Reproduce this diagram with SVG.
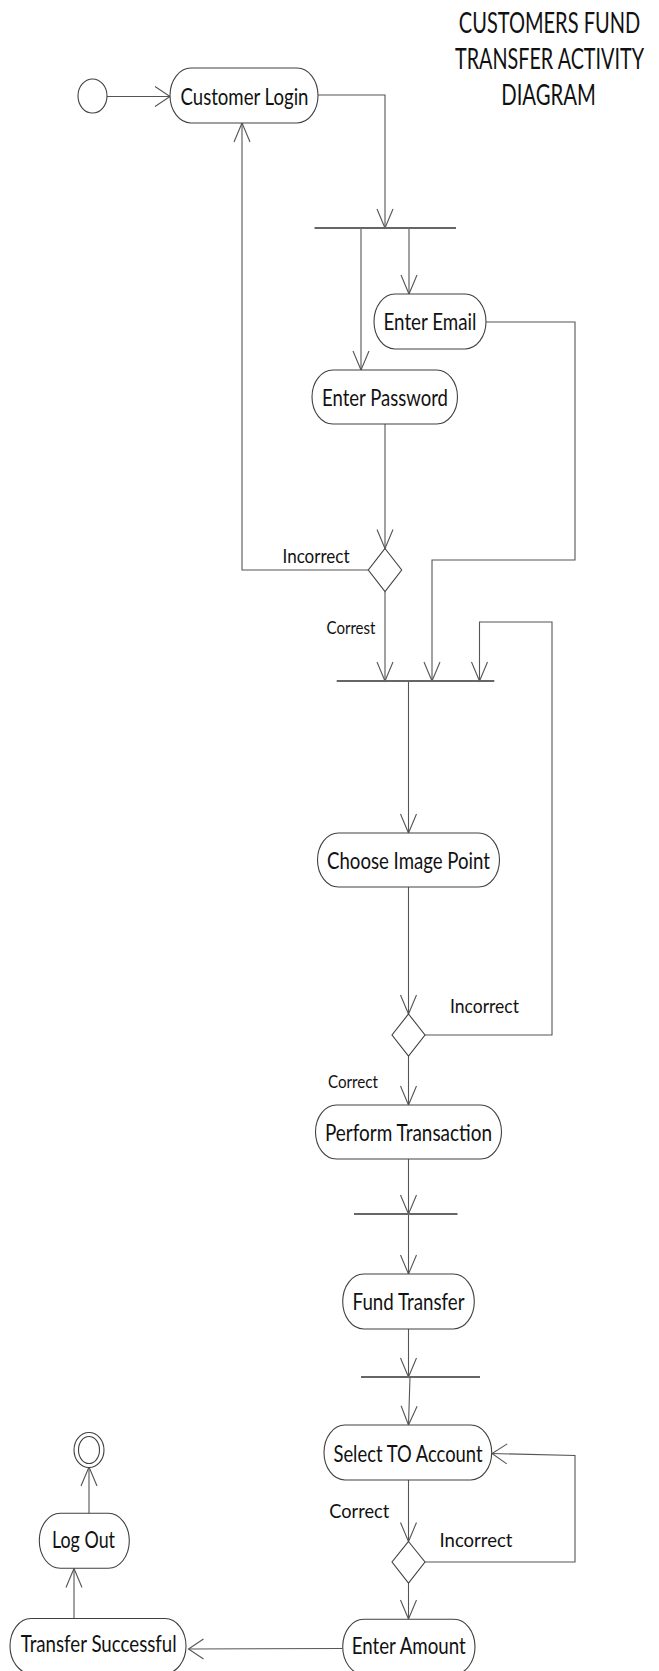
<svg xmlns="http://www.w3.org/2000/svg" width="659" height="1671" viewBox="0 0 659 1671">
<style>
.node{fill:#fff;stroke:#404040;stroke-width:1.1}
.t{font-family:Lato,"Open Sans","Liberation Sans",sans-serif;font-size:23.5px;fill:#111;text-anchor:middle}
.lb{font-family:Lato,"Open Sans","Liberation Sans",sans-serif;font-size:19.5px;fill:#111;text-anchor:middle}
.title{font-family:Lato,"Open Sans","Liberation Sans",sans-serif;font-size:29px;fill:#111;text-anchor:middle}
.c{fill:none;stroke:#555;stroke-width:1.1}
.cv{fill:none;stroke:#555;stroke-width:1.1;marker-end:url(#av)}
.ch{fill:none;stroke:#555;stroke-width:1.1;marker-end:url(#ah)}
.bar{stroke:#666;stroke-width:2.2}
</style>
<defs>
<marker id="av" markerUnits="userSpaceOnUse" markerWidth="22" markerHeight="20" viewBox="-1 -1 22 20" refX="19" refY="8" orient="auto" overflow="visible"><path d="M0,0 L19,8 L0,16" fill="none" stroke="#555" stroke-width="1.1"/></marker>
<marker id="ah" markerUnits="userSpaceOnUse" markerWidth="18" markerHeight="24" viewBox="-1 -1 18 24" refX="15" refY="10" orient="auto" overflow="visible"><path d="M0,0 L15,10 L0,20" fill="none" stroke="#555" stroke-width="1.1"/></marker>
</defs>

<g id="title">
<text class="title" transform="translate(549.5,32.5) scale(0.7,1)" x="0" y="0" textLength="259" lengthAdjust="spacingAndGlyphs">CUSTOMERS FUND</text>
<text class="title" transform="translate(549.5,68.5) scale(0.7,1)" x="0" y="0" textLength="270" lengthAdjust="spacingAndGlyphs">TRANSFER ACTIVITY</text>
<text class="title" transform="translate(548.5,104.5) scale(0.7,1)" x="0" y="0" textLength="135" lengthAdjust="spacingAndGlyphs">DIAGRAM</text>
</g>

<g id="connectors">
<path class="ch" d="M107,96.5 L170,96.5"/>
<path class="cv" d="M318,95 L385,95 L385,228"/>
<path class="cv" d="M361,228 L361,370"/>
<path class="cv" d="M409,228 L409,294"/>
<path class="cv" d="M486,322 L575,322 L575,560 L432,560 L432,681"/>
<path class="cv" d="M385,424 L385,548.5"/>
<path class="cv" d="M368.5,570 L242,570 L242,123"/>
<path class="cv" d="M385,591.5 L385,681"/>
<path class="cv" d="M408.5,681 L408.5,833"/>
<path class="cv" d="M408.5,887 L408.5,1014"/>
<path class="cv" d="M425,1035 L552,1035 L552,622 L479.5,622 L479.5,681"/>
<path class="cv" d="M408.5,1056 L408.5,1105"/>
<path class="cv" d="M408.5,1159 L408.5,1214"/>
<path class="cv" d="M408.5,1214 L408.5,1274"/>
<path class="cv" d="M408.5,1329 L408.5,1377"/>
<path class="cv" d="M410,1377 L408.5,1425"/>
<path class="cv" d="M408.5,1480 L408.5,1541.5"/>
<path class="ch" d="M425,1562 L575,1562 L575,1455.5 L492,1453.5"/>
<path class="cv" d="M408.5,1583 L408.5,1619"/>
<path class="ch" d="M342.5,1648.5 L188.5,1649"/>
<path class="cv" d="M74,1618.5 L74,1568.5"/>
<path class="cv" d="M89,1513.5 L89,1467"/>
</g>

<g id="start"><ellipse class="node" cx="92.5" cy="96" rx="14.5" ry="17"/></g>

<g id="customer-login"><rect class="node" x="170" y="68" width="148" height="55" rx="21" ry="27.5"/><text class="t" x="244.5" y="104.5" textLength="128" lengthAdjust="spacingAndGlyphs">Customer Login</text></g>

<g id="fork1"><line class="bar" x1="314.5" y1="228" x2="456" y2="228"/></g>

<g id="enter-email"><rect class="node" x="374" y="294" width="112" height="55" rx="21" ry="27.5"/><text class="t" x="430" y="330" textLength="93" lengthAdjust="spacingAndGlyphs">Enter Email</text></g>

<g id="enter-password"><rect class="node" x="312" y="370" width="145.5" height="54" rx="21" ry="27"/><text class="t" x="385" y="405.5" textLength="126" lengthAdjust="spacingAndGlyphs">Enter Password</text></g>

<g id="decision1"><polygon class="node" points="385,548.5 401.7,570 385,591.5 368.3,570"/></g>
<g id="label-incorrect1"><text class="lb" x="316" y="563" textLength="67" lengthAdjust="spacingAndGlyphs">Incorrect</text></g>
<g id="label-correst"><text class="lb" x="351" y="634" textLength="49" lengthAdjust="spacingAndGlyphs" style="font-size:17px">Correst</text></g>

<g id="join1"><line class="bar" x1="336.7" y1="681" x2="494.3" y2="681"/></g>

<g id="choose-image-point"><rect class="node" x="317.5" y="833" width="182" height="54" rx="21" ry="27"/><text class="t" x="408.5" y="868.5" textLength="163" lengthAdjust="spacingAndGlyphs">Choose Image Point</text></g>

<g id="decision2"><polygon class="node" points="408.5,1014 425,1035 408.5,1056 392,1035"/></g>
<g id="label-incorrect2"><text class="lb" x="484.5" y="1013" textLength="69" lengthAdjust="spacingAndGlyphs">Incorrect</text></g>
<g id="label-correct2"><text class="lb" x="353" y="1088" textLength="50" lengthAdjust="spacingAndGlyphs" style="font-size:17px">Correct</text></g>

<g id="perform-transaction"><rect class="node" x="315.5" y="1105" width="186" height="54" rx="21" ry="27"/><text class="t" x="408.5" y="1140.5" textLength="167" lengthAdjust="spacingAndGlyphs">Perform Transaction</text></g>

<g id="fork2"><line class="bar" x1="354" y1="1214" x2="457.5" y2="1214"/></g>

<g id="fund-transfer"><rect class="node" x="342.7" y="1274" width="131.6" height="55" rx="21" ry="27.5"/><text class="t" x="408.5" y="1310" textLength="112" lengthAdjust="spacingAndGlyphs">Fund Transfer</text></g>

<g id="fork3"><line class="bar" x1="361" y1="1377" x2="480" y2="1377"/></g>

<g id="select-to-account"><rect class="node" x="324" y="1425" width="167.7" height="55" rx="21" ry="27.5"/><text class="t" x="408" y="1461.5" textLength="149" lengthAdjust="spacingAndGlyphs">Select TO Account</text></g>

<g id="label-correct3"><text class="lb" x="359.3" y="1518.3" textLength="60" lengthAdjust="spacingAndGlyphs">Correct</text></g>
<g id="label-incorrect3"><text class="lb" x="476" y="1546.7" textLength="73" lengthAdjust="spacingAndGlyphs">Incorrect</text></g>

<g id="decision3"><polygon class="node" points="408.5,1541.5 425,1562 408.5,1583 392,1562"/></g>

<g id="enter-amount"><rect class="node" x="342.7" y="1619.3" width="132.3" height="55" rx="21" ry="27.5"/><text class="t" x="408.7" y="1654" textLength="114" lengthAdjust="spacingAndGlyphs">Enter Amount</text></g>

<g id="transfer-successful"><rect class="node" x="10" y="1618.5" width="176" height="55" rx="21" ry="27.5"/><text class="t" x="98.7" y="1651.7" textLength="156" lengthAdjust="spacingAndGlyphs">Transfer Successful</text></g>

<g id="log-out"><rect class="node" x="39.3" y="1513.3" width="90" height="55" rx="21" ry="27.5"/><text class="t" x="83.5" y="1548.3" textLength="63" lengthAdjust="spacingAndGlyphs">Log Out</text></g>

<g id="end"><ellipse class="node" cx="89" cy="1450" rx="15" ry="17.5"/><ellipse class="node" cx="89" cy="1450" rx="10.5" ry="13.5"/></g>
</svg>
